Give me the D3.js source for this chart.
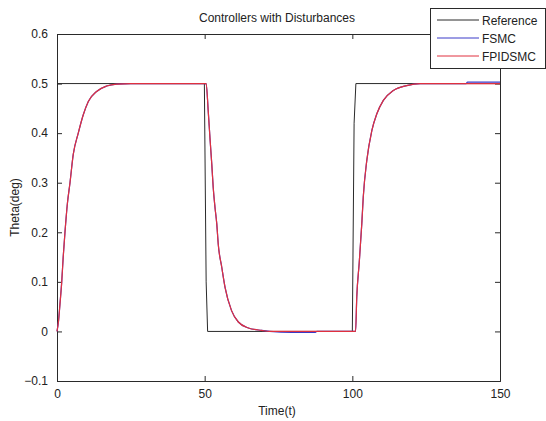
<!DOCTYPE html>
<html>
<head>
<meta charset="utf-8">
<script src="https://cdn.jsdelivr.net/npm/d3@7"></script>
<style>
  body { margin: 0; background: #fff; }
  svg text { font-family: "Liberation Sans", Arial, sans-serif; fill: #222; }
</style>
</head>
<body>
<div id="chart"></div>
<script>
// reference square wave
const refTime  = [0, 49.9, 50.5, 51, 100, 100.6, 101.2, 150]
const refTheta = [0.5, 0.5, 0.1, 0, 0, 0.42, 0.5, 0.5]

// FPIDSMC response
const fpidTime  = [0, 0.5, 1.0, 1.6, 2.1, 2.7, 3.5, 4.4, 5.5, 7.2, 8.9, 10.6, 13.4, 16.8, 20.2, 25,
  50.5, 51.2, 51.8, 52.4, 52.9, 53.5, 54.1, 54.6, 55.8, 56.9, 59.1, 61.4, 64.8, 69.3, 72,
  101.1, 101.5, 102.3, 103.2, 103.7, 104.9, 106.6, 108.3, 110.5, 113.9, 118.4, 123, 150]
const fpidTheta = [0, 0.02, 0.055, 0.1, 0.15, 0.2, 0.257, 0.3, 0.357, 0.4, 0.437, 0.464, 0.484, 0.495, 0.499, 0.5,
  0.5, 0.445, 0.39, 0.338, 0.29, 0.25, 0.217, 0.176, 0.129, 0.089, 0.042, 0.019, 0.007, 0.002, 0,
  0, 0.069, 0.136, 0.217, 0.271, 0.345, 0.405, 0.439, 0.466, 0.486, 0.496, 0.5, 0.5]

// FSMC response (nearly identical, small offsets under disturbance)
const fsmcTime  = [0, 0.5, 1.0, 1.6, 2.1, 2.7, 3.5, 4.4, 5.5, 7.2, 8.9, 10.6, 13.4, 16.8, 20.2, 25,
  50.5, 51.2, 51.8, 52.4, 52.9, 53.5, 54.1, 54.6, 55.8, 56.9, 59.1, 61.4, 64.8, 69.3, 72, 79.5, 87.5, 88,
  101.1, 101.5, 102.3, 103.2, 103.7, 104.9, 106.6, 108.3, 110.5, 113.9, 118.4, 123, 138.5, 139, 150]
const fsmcTheta = [0, 0.02, 0.055, 0.1, 0.15, 0.2, 0.257, 0.3, 0.357, 0.4, 0.437, 0.464, 0.484, 0.495, 0.499, 0.5,
  0.5, 0.445, 0.39, 0.338, 0.29, 0.25, 0.217, 0.176, 0.129, 0.089, 0.042, 0.019, 0.007, 0.002, 0, -0.002, -0.002, 0,
  0, 0.069, 0.136, 0.217, 0.271, 0.345, 0.405, 0.439, 0.466, 0.486, 0.496, 0.5, 0.5, 0.503, 0.503]

const xTicks = [0, 50, 100, 150]
const yTicks = [-0.1, 0, 0.1, 0.2, 0.3, 0.4, 0.5, 0.6]
const legendNames = ['Reference', 'FSMC', 'FPIDSMC']

const width = 546
const height = 421
const plotLeft = 57, plotRight = 500, plotTop = 34, plotBottom = 381

const svg = d3.select('#chart')
  .append('svg')
    .attr('width', width)
    .attr('height', height)

svg.append('rect')
  .attr('width', width)
  .attr('height', height)
  .attr('fill', '#fff')

const x = d3.scaleLinear().domain([0, 150]).range([plotLeft, plotRight])
const y = d3.scaleLinear().domain([-0.1, 0.6]).range([plotBottom, plotTop])

const colors = ['#2a2a2a', '#3a3ac8', '#e0303e']

// axes with inward ticks on all four sides
const fmt = d => d3.format('')(+d.toFixed(1))
svg.append('g')
  .attr('transform', `translate(0,${plotBottom})`)
  .call(d3.axisBottom(x).tickValues(xTicks).tickSize(-5).tickPadding(8).tickFormat(d3.format('d')))
svg.append('g')
  .attr('transform', `translate(0,${plotTop})`)
  .call(d3.axisTop(x).tickValues(xTicks).tickSize(-5).tickFormat(''))
svg.append('g')
  .attr('transform', `translate(${plotLeft},0)`)
  .call(d3.axisLeft(y).tickValues(yTicks).tickSize(-5).tickPadding(9).tickFormat(fmt))
svg.append('g')
  .attr('transform', `translate(${plotRight},0)`)
  .call(d3.axisRight(y).tickValues(yTicks).tickSize(-5).tickFormat(''))

svg.selectAll('.domain').attr('stroke', '#2a2a2a')
svg.selectAll('.tick line').attr('stroke', '#2a2a2a')
svg.selectAll('.tick text').attr('font-size', 12).attr('fill', '#222')
  .style('font-family', '"Liberation Sans", Arial, sans-serif')

const line = d3.line().x(d => x(d[0])).y(d => y(d[1]))
const smooth = d3.line().x(d => x(d[0])).y(d => y(d[1])).curve(d3.curveMonotoneX)

const plot = svg.append('g')

plot.append('path')
  .datum(d3.zip(refTime, refTheta))
  .attr('d', line)
  .attr('fill', 'none')
  .attr('stroke', colors[0])
  .attr('stroke-width', 1)

plot.append('path')
  .datum(d3.zip(fsmcTime, fsmcTheta))
  .attr('d', smooth)
  .attr('fill', 'none')
  .attr('stroke', colors[1])
  .attr('stroke-width', 1.2)

plot.append('path')
  .datum(d3.zip(fpidTime, fpidTheta))
  .attr('d', smooth)
  .attr('fill', 'none')
  .attr('stroke', colors[2])
  .attr('stroke-width', 1.2)

// title and axis labels
svg.append('text')
  .attr('x', 277)
  .attr('y', 22)
  .attr('text-anchor', 'middle')
  .attr('font-size', 12)
  .text('Controllers with Disturbances')

svg.append('text')
  .attr('x', 277)
  .attr('y', 415)
  .attr('text-anchor', 'middle')
  .attr('font-size', 12)
  .text('Time(t)')

svg.append('text')
  .attr('transform', `translate(19,${(plotTop + plotBottom) / 2}) rotate(-90)`)
  .attr('text-anchor', 'middle')
  .attr('font-size', 12)
  .text('Theta(deg)')

// legend
const legend = svg.append('g')
legend.append('rect')
  .attr('x', 430.5)
  .attr('y', 8.5)
  .attr('width', 115)
  .attr('height', 60)
  .attr('fill', '#fff')
  .attr('stroke', '#2a2a2a')

const rowY = d3.scalePoint().domain(legendNames).range([20, 56])
legendNames.forEach((name, i) => {
  legend.append('line')
    .attr('x1', 437).attr('x2', 479)
    .attr('y1', rowY(name)).attr('y2', rowY(name))
    .attr('stroke', colors[i])
  legend.append('text')
    .attr('x', 482)
    .attr('y', rowY(name) + 4.5)
    .attr('font-size', 12)
    .text(name)
})
</script>
</body>
</html>
